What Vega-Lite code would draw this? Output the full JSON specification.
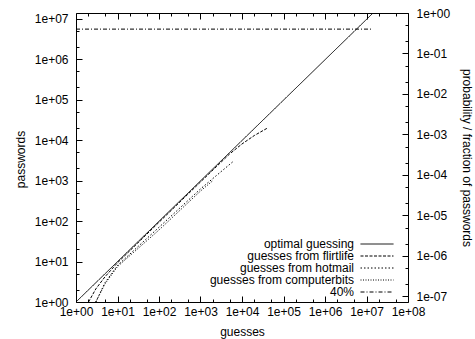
{
  "$schema": "https://vega.github.io/schema/vega-lite/v6.json",
  "autosize": {"type": "none"},
  "width": 332,
  "height": 289,
  "padding": {"left": 76, "top": 13, "right": 67, "bottom": 37},
  "background": "white",
  "config": {
    "font": "Liberation Sans",
    "view": {"stroke": "black", "strokeWidth": 1},
    "axis": {"domain": false, "grid": false, "labelFontSize": 12, "titleFontSize": 12, "titleFontWeight": "normal", "labelColor": "black", "titleColor": "black", "tickColor": "black", "labelOverlap": false, "labelFlush": false}
  },
  "datasets": {
    "curves": [
      {"series": "optimal guessing", "guesses": 1, "passwords": 1},
      {"series": "optimal guessing", "guesses": 14400000, "passwords": 13700000},
      {"series": "guesses from flirtlife", "guesses": 2, "passwords": 1},
      {"series": "guesses from flirtlife", "guesses": 3, "passwords": 2.1},
      {"series": "guesses from flirtlife", "guesses": 5, "passwords": 4.2},
      {"series": "guesses from flirtlife", "guesses": 10, "passwords": 9.3},
      {"series": "guesses from flirtlife", "guesses": 100, "passwords": 93},
      {"series": "guesses from flirtlife", "guesses": 1000, "passwords": 920},
      {"series": "guesses from flirtlife", "guesses": 5000, "passwords": 4500},
      {"series": "guesses from flirtlife", "guesses": 10000, "passwords": 8000},
      {"series": "guesses from flirtlife", "guesses": 20000, "passwords": 13000},
      {"series": "guesses from flirtlife", "guesses": 42000, "passwords": 20000},
      {"series": "guesses from hotmail", "guesses": 3, "passwords": 1},
      {"series": "guesses from hotmail", "guesses": 5, "passwords": 3},
      {"series": "guesses from hotmail", "guesses": 10, "passwords": 8},
      {"series": "guesses from hotmail", "guesses": 100, "passwords": 70},
      {"series": "guesses from hotmail", "guesses": 1000, "passwords": 620},
      {"series": "guesses from hotmail", "guesses": 6000, "passwords": 2900},
      {"series": "guesses from computerbits", "guesses": 3, "passwords": 1},
      {"series": "guesses from computerbits", "guesses": 5, "passwords": 2.8},
      {"series": "guesses from computerbits", "guesses": 10, "passwords": 7.5},
      {"series": "guesses from computerbits", "guesses": 100, "passwords": 60},
      {"series": "guesses from computerbits", "guesses": 1000, "passwords": 550},
      {"series": "guesses from computerbits", "guesses": 2000, "passwords": 1000}
    ],
    "forty": [
      {"series": "40%", "guesses": 1, "probability": 0.4},
      {"series": "40%", "guesses": 13700000, "probability": 0.4}
    ]
  },
  "layer": [
    {
      "data": {"name": "curves"},
      "mark": {"type": "line", "clip": true, "strokeWidth": 1},
      "encoding": {
        "x": {"field": "guesses", "type": "quantitative",
          "scale": {"type": "log", "domain": [1, 100000000], "nice": false},
          "axis": {"orient": "bottom", "title": "guesses", "titlePadding": 6,
            "values": [1,2,5,10,20,50,100,200,500,1000,2000,5000,10000,20000,50000,100000,200000,500000,1000000,2000000,5000000,10000000,20000000,50000000,100000000],
            "tickSize": {"condition": {"test": "abs(log(datum.value)/LN10 - round(log(datum.value)/LN10)) < 0.01", "value": -6}, "value": -3},
            "labelPadding": 10,
            "labelExpr": "abs(log(datum.value)/LN10 - round(log(datum.value)/LN10)) < 0.01 ? '1e+0' + round(log(datum.value)/LN10) : ''"}},
        "y": {"field": "passwords", "type": "quantitative",
          "scale": {"type": "log", "domain": [1, 13700000], "nice": false},
          "axis": {"orient": "left", "title": "passwords", "titlePadding": 7, "titleY": 146,
            "values": [1,2,5,10,20,50,100,200,500,1000,2000,5000,10000,20000,50000,100000,200000,500000,1000000,2000000,5000000,10000000],
            "tickSize": {"condition": {"test": "abs(log(datum.value)/LN10 - round(log(datum.value)/LN10)) < 0.01", "value": -6}, "value": -3},
            "labelPadding": 14,
            "labelExpr": "abs(log(datum.value)/LN10 - round(log(datum.value)/LN10)) < 0.01 ? '1e+0' + round(log(datum.value)/LN10) : ''"}},
        "strokeDash": {"field": "series", "type": "nominal",
          "scale": {"domain": ["optimal guessing", "guesses from flirtlife", "guesses from hotmail", "guesses from computerbits", "40%"],
                    "range": [[1, 0], [3, 1.5], [1.5, 2], [1, 1.5], [4, 2, 1, 2]]},
          "legend": {"orient": "none", "legendX": 295, "legendY": 225, "title": null,
            "symbolType": "M-3.3,0H3.3", "symbolSize": 100, "symbolStrokeWidth": 1, "symbolStrokeColor": "black",
            "labelAlign": "right", "labelOffset": -29, "labelFontSize": 12, "rowPadding": 0, "labelColor": "black"}},
        "color": {"value": "black"}
      }
    },
    {
      "data": {"name": "forty"},
      "mark": {"type": "line", "clip": true, "strokeWidth": 1},
      "encoding": {
        "x": {"field": "guesses", "type": "quantitative",
          "axis": {"orient": "top", "title": null, "labels": false,
            "values": [1,2,5,10,20,50,100,200,500,1000,2000,5000,10000,20000,50000,100000,200000,500000,1000000,2000000,5000000,10000000,20000000,50000000,100000000],
            "tickSize": {"condition": {"test": "abs(log(datum.value)/LN10 - round(log(datum.value)/LN10)) < 0.01", "value": -6}, "value": -3}}},
        "y": {"field": "probability", "type": "quantitative",
          "scale": {"type": "log", "domain": [7.3e-8, 1], "nice": false},
          "axis": {"orient": "right", "title": "probability / fraction of passwords", "titlePadding": 10,
            "values": [1e-7,2e-7,5e-7,1e-6,2e-6,5e-6,1e-5,2e-5,5e-5,1e-4,2e-4,5e-4,1e-3,2e-3,5e-3,1e-2,2e-2,5e-2,0.1,0.2,0.5,1],
            "tickSize": {"condition": {"test": "abs(log(datum.value)/LN10 - round(log(datum.value)/LN10)) < 0.01", "value": -6}, "value": -3},
            "labelPadding": 14,
            "labelExpr": "abs(log(datum.value)/LN10 - round(log(datum.value)/LN10)) < 0.01 ? (round(log(datum.value)/LN10) == 0 ? '1e+00' : '1e-0' + abs(round(log(datum.value)/LN10))) : ''"}},
        "strokeDash": {"field": "series", "type": "nominal"},
        "color": {"value": "black"}
      }
    }
  ],
  "resolve": {"scale": {"y": "independent"}, "axis": {"x": "independent", "y": "independent"}}
}
